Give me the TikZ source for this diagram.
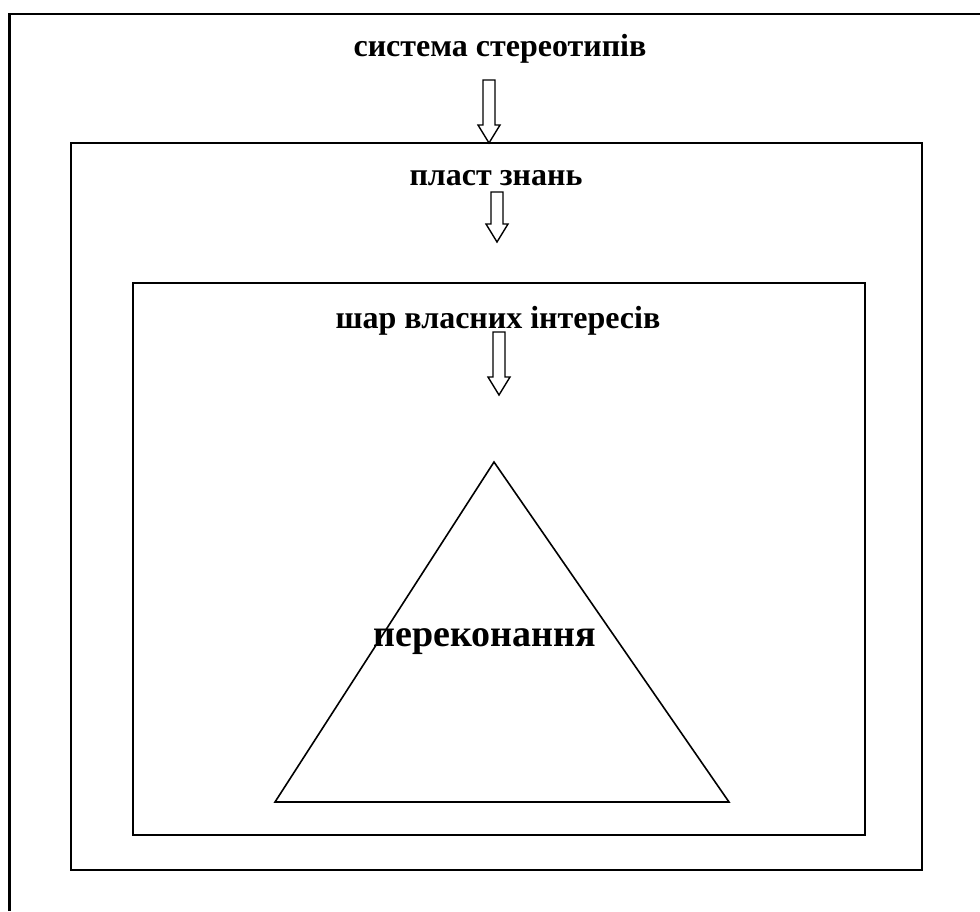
\documentclass[tikz,border=0pt]{standalone}
\usepackage{fontspec}
\setmainfont{Liberation Serif}
\usetikzlibrary{calc}

\tikzset{
  frame/.style={draw, line width=1pt},
  layer/.style={font=\fontsize{16}{18}\selectfont\bfseries, inner sep=0pt},
  core/.style={font=\fontsize{19}{21}\selectfont\bfseries, inner sep=0pt},
  hollow/.style={draw, line width=0.7pt, fill=white}
}

% hollow block arrow from #1 down to #2
\newcommand{\hollowdown}[2]{%
  \draw[hollow] ($(#1)+(-6,0)$) -- ($(#2)+(-6,-18)$) -- ($(#2)+(-11,-18)$)
    -- (#2) -- ($(#2)+(11,-18)$) -- ($(#2)+(6,-18)$) -- ($(#1)+(6,0)$) -- cycle;}

\begin{document}
\begin{tikzpicture}[x=0.5pt, y=-0.5pt]
\useasboundingbox (0,0) rectangle (980,911);

% outer frame (open on the right and bottom)
\draw[line width=1.1pt] (9.5,911) -- (9.5,14) -- (980,14);

% the layers
\coordinate (znTL) at (71,143);
\coordinate (znBR) at (922,870);
\coordinate (shTL) at (133,283);
\coordinate (shBR) at (865,835);
\draw[frame] (znTL) rectangle (znBR);
\draw[frame] (shTL) rectangle (shBR);

% triangle
\coordinate (top) at (494,462);
\coordinate (bl) at (275,802);
\coordinate (br) at (729,802);
\draw[line width=0.8pt] (top) -- (br) -- (bl) -- cycle;

% labels
\node[layer, anchor=base] (stereo) at (500,56) {система стереотипів};
\node[layer, anchor=base] (znan) at (496,185) {пласт знань};
\node[layer, anchor=base] (inter) at (498,328) {шар власних інтересів};
\node[core, anchor=base] (perek) at (485,646) {переконання};

% arrows
\coordinate (a1s) at (489,80);
\coordinate (a1e) at (489,143);
\coordinate (a2s) at (497,192);
\coordinate (a2e) at (497,242);
\coordinate (a3s) at (499,332);
\coordinate (a3e) at (499,395);
\hollowdown{a1s}{a1e}
\hollowdown{a2s}{a2e}
\hollowdown{a3s}{a3e}
\end{tikzpicture}
\end{document}
